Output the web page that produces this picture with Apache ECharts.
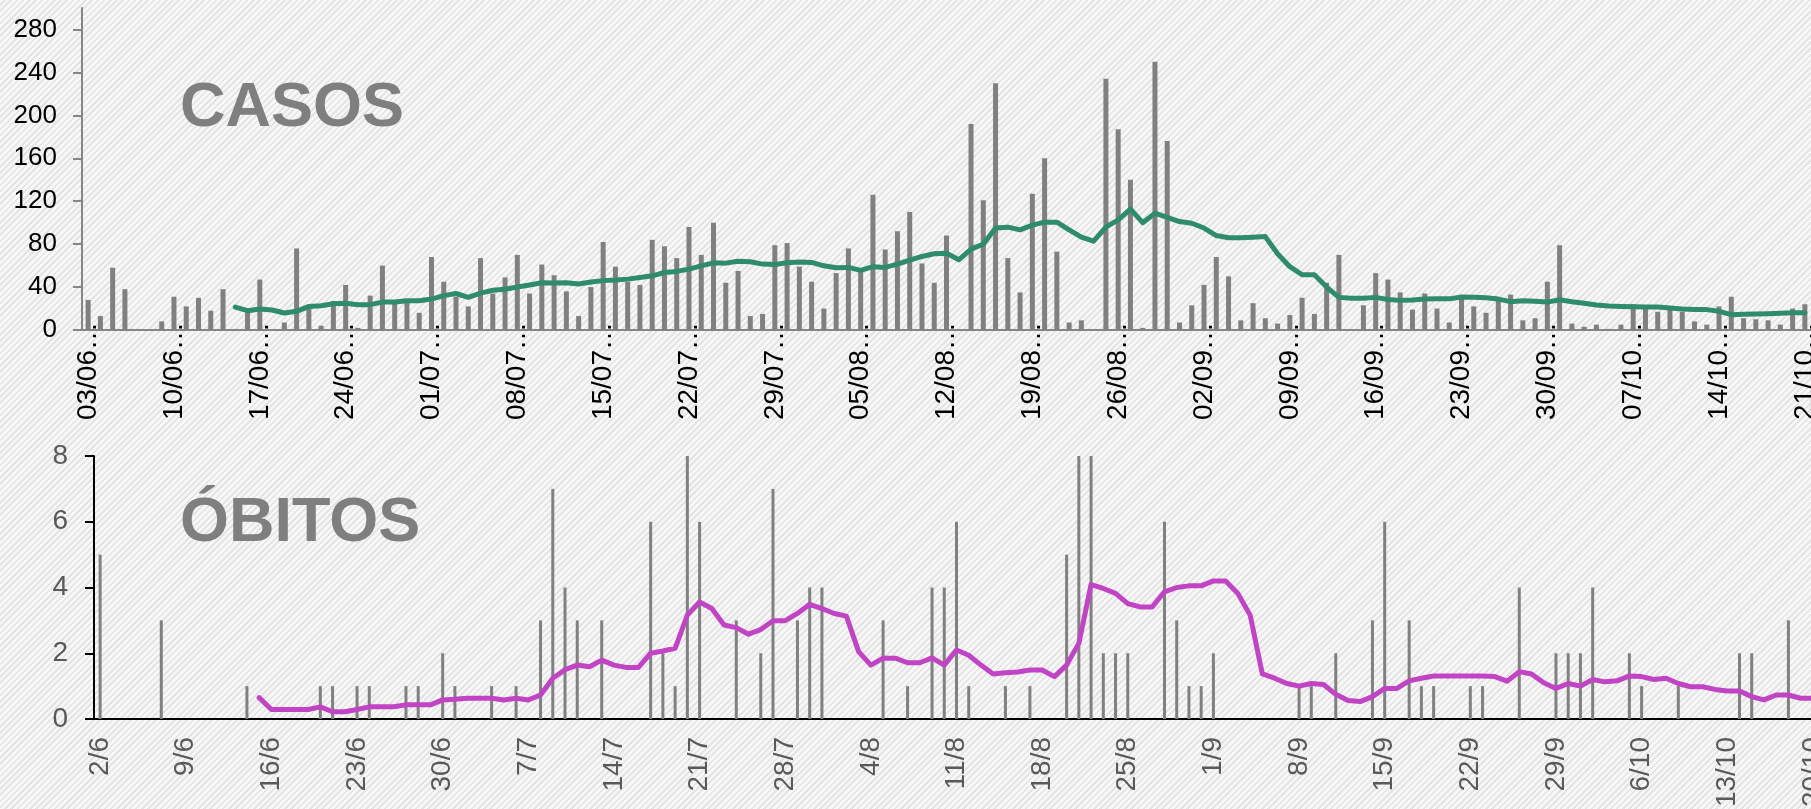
<!DOCTYPE html>
<html>
<head>
<meta charset="utf-8">
<title>Casos e óbitos</title>
<script src="https://cdn.jsdelivr.net/npm/echarts@6/dist/echarts.min.js"></script>
<style>
html, body { margin: 0; padding: 0; }
#chart {
  width: 1811px;
  height: 809px;
  background: repeating-linear-gradient(135deg, #f7f7f7 0px, #f7f7f7 2.6px, #e4e4e4 2.6px, #e4e4e4 4.4px);
}
</style>
</head>
<body>
<div id="chart"></div>
<script>
// eixo dos casos (03/06 a 21/10)
const diasCasos = [
  '03/06','04/06','05/06','06/06','07/06','08/06','09/06','10/06','11/06','12/06','13/06','14/06','15/06','16/06',
  '17/06','18/06','19/06','20/06','21/06','22/06','23/06','24/06','25/06','26/06','27/06','28/06','29/06','30/06',
  '01/07','02/07','03/07','04/07','05/07','06/07','07/07','08/07','09/07','10/07','11/07','12/07','13/07','14/07',
  '15/07','16/07','17/07','18/07','19/07','20/07','21/07','22/07','23/07','24/07','25/07','26/07','27/07','28/07',
  '29/07','30/07','31/07','01/08','02/08','03/08','04/08','05/08','06/08','07/08','08/08','09/08','10/08','11/08',
  '12/08','13/08','14/08','15/08','16/08','17/08','18/08','19/08','20/08','21/08','22/08','23/08','24/08','25/08',
  '26/08','27/08','28/08','29/08','30/08','31/08','01/09','02/09','03/09','04/09','05/09','06/09','07/09','08/09',
  '09/09','10/09','11/09','12/09','13/09','14/09','15/09','16/09','17/09','18/09','19/09','20/09','21/09','22/09',
  '23/09','24/09','25/09','26/09','27/09','28/09','29/09','30/09','01/10','02/10','03/10','04/10','05/10','06/10',
  '07/10','08/10','09/10','10/10','11/10','12/10','13/10','14/10','15/10','16/10','17/10','18/10','19/10','20/10',
  '21/10'
];

const casosDiarios = [
  28, 13, 58, 38, 0, 0, 8, 31, 22, 30, 18, 38, 1, 20, 47, 0, 7, 76, 20, 4, 27, 42, 2, 32, 60, 27, 27, 16, 68, 45,
  31, 22, 67, 34, 49, 70, 34, 61, 51, 36, 13, 40, 82, 59, 45, 42, 84, 78, 67, 96, 70, 100, 44, 55, 13, 15, 79, 81, 59, 45,
  20, 53, 76, 54, 126, 75, 92, 110, 62, 44, 88, 0, 192, 121, 230, 67, 35, 127, 160, 73, 7, 9, 0, 234, 187, 140, 2, 250, 176, 7,
  23, 42, 68, 50, 9, 25, 11, 6, 14, 30, 15, 44, 70, 0, 23, 53, 47, 35, 19, 34, 20, 7, 30, 22, 16, 27, 33, 9, 11, 45,
  79, 6, 3, 5, 1, 5, 24, 20, 17, 19, 17, 8, 5, 22, 31, 11, 10, 9, 5, 20, 24
];

const mediaCasos = [
  null, null, null, null, null, null, null, null, null, null, null, null,
  21.4, 18, 19.5, 18.6, 15.8, 17.4, 22, 22.6, 24.5, 25, 23.6, 23.6, 26, 26, 27.3, 27.3, 28.8, 32,
  34, 30.4, 34.4, 37, 38, 40, 42, 44, 43.7, 44, 42.8, 44.7, 46, 46.5, 47.4, 49, 50.5, 53.6, 54.6, 56.7,
  59.8, 62.6, 62.3, 64, 63.6, 61.4, 61, 62.6, 63.3, 63,
  59.8, 58, 58.3, 55.5, 59, 58.3, 61.4, 65, 68.5, 71, 71.6, 65.4, 75.3, 80, 95, 95.8, 93.3, 97.7, 100.5, 100.5,
  93.3, 86.5, 82.8, 95.8, 102.6, 112.6, 100, 108.8, 105, 101,
  99.5, 95, 88, 86, 86, 86.5, 87, 71, 59, 51.5, 51.5, 40, 30.4, 29.5, 29.5, 30.4, 28.5, 27.6, 28, 28.8,
  29, 29, 30.7, 30.4, 30, 28.8, 26.4, 27.3, 26.7, 26,
  28.2, 26.4, 25, 23.3, 22.3, 22, 21.7, 21.4, 21.4, 20.5, 19.5, 19.2, 19, 17.4, 14.3, 14.6, 15, 15.2, 15.5, 16, 16
];

// eixo dos óbitos (2/6 a 20/10)
const diasObitos = [
  '2/6','3/6','4/6','5/6','6/6','7/6','8/6','9/6','10/6','11/6','12/6','13/6','14/6','15/6',
  '16/6','17/6','18/6','19/6','20/6','21/6','22/6','23/6','24/6','25/6','26/6','27/6','28/6','29/6',
  '30/6','1/7','2/7','3/7','4/7','5/7','6/7','7/7','8/7','9/7','10/7','11/7','12/7','13/7',
  '14/7','15/7','16/7','17/7','18/7','19/7','20/7','21/7','22/7','23/7','24/7','25/7','26/7','27/7',
  '28/7','29/7','30/7','31/7','1/8','2/8','3/8','4/8','5/8','6/8','7/8','8/8','9/8','10/8',
  '11/8','12/8','13/8','14/8','15/8','16/8','17/8','18/8','19/8','20/8','21/8','22/8','23/8','24/8',
  '25/8','26/8','27/8','28/8','29/8','30/8','31/8','1/9','2/9','3/9','4/9','5/9','6/9','7/9',
  '8/9','9/9','10/9','11/9','12/9','13/9','14/9','15/9','16/9','17/9','18/9','19/9','20/9','21/9',
  '22/9','23/9','24/9','25/9','26/9','27/9','28/9','29/9','30/9','1/10','2/10','3/10','4/10','5/10',
  '6/10','7/10','8/10','9/10','10/10','11/10','12/10','13/10','14/10','15/10','16/10','17/10','18/10','19/10',
  '20/10'
];

const obitosDiarios = [
  5, 0, 0, 0, 0, 3, 0, 0, 0, 0, 0, 0, 1, 0, 0, 0, 0, 0, 1, 1, 0, 1, 1, 0, 0, 1, 1, 0, 2, 1,
  0, 0, 1, 0, 1, 0, 3, 7, 4, 3, 0, 3, 0, 0, 0, 6, 2, 1, 8, 6, 0, 0, 3, 0, 2, 7, 0, 3, 4, 4,
  0, 0, 0, 0, 3, 0, 1, 0, 4, 4, 6, 1, 0, 0, 1, 0, 1, 0, 0, 5, 8, 8, 2, 2, 2, 0, 0, 6, 3, 1,
  1, 2, 0, 0, 0, 0, 0, 0, 1, 1, 0, 2, 0, 0, 3, 6, 0, 3, 1, 1, 0, 0, 1, 1, 0, 0, 4, 0, 0, 2,
  2, 2, 4, 0, 0, 2, 1, 0, 0, 1, 0, 0, 0, 0, 2, 2, 0, 0, 3, 0, 1
];

const mediaObitos = [
  null, null, null, null, null, null, null, null, null, null, null, null, null,
  0.65, 0.29, 0.29, 0.29, 0.29, 0.37, 0.22, 0.22, 0.29, 0.37, 0.37, 0.37, 0.43, 0.43, 0.43, 0.58, 0.6,
  0.63, 0.63, 0.63, 0.58, 0.63, 0.58, 0.73, 1.24, 1.5, 1.64, 1.59, 1.79, 1.64, 1.57, 1.57, 2.0, 2.07, 2.15, 3.16, 3.56,
  3.36, 2.86, 2.78, 2.58, 2.72, 2.99, 2.99, 3.21, 3.49, 3.36,
  3.21, 3.13, 2.05, 1.64, 1.85, 1.85, 1.71, 1.71, 1.86, 1.64, 2.1, 1.94, 1.64, 1.37, 1.41, 1.43, 1.49, 1.49, 1.29, 1.64,
  2.3, 4.09, 3.97, 3.82, 3.51, 3.41, 3.41, 3.87, 4.0, 4.05,
  4.05, 4.2, 4.2, 3.82, 3.16, 1.37, 1.24, 1.08, 1.0, 1.08, 1.05, 0.75, 0.56, 0.53, 0.68, 0.93, 0.93, 1.16, 1.24, 1.31,
  1.31, 1.31, 1.31, 1.31, 1.29, 1.15, 1.44, 1.37, 1.1, 0.93,
  1.08, 1.0, 1.2, 1.13, 1.16, 1.31, 1.29, 1.2, 1.24, 1.08, 0.98, 0.98, 0.9, 0.85, 0.85, 0.68, 0.58, 0.73, 0.73, 0.63, 0.63
];

const fonte = '"Liberation Sans", Arial, sans-serif';
const cinza = '#868686';

const chart = echarts.init(document.getElementById('chart'));

const option = {
  animation: false,
  textStyle: { fontFamily: fonte },
  graphic: [
    { type: 'text', x: 180, y: 109, z: 0,
      style: { text: 'CASOS', font: 'bold 63px ' + fonte, fill: '#7f7f7f', verticalAlign: 'middle' } },
    { type: 'text', x: 180, y: 524, z: 0,
      style: { text: 'ÓBITOS', font: 'bold 63px ' + fonte, fill: '#7f7f7f', verticalAlign: 'middle' } }
  ],
  // o gráfico original está cortado à direita, por isso as grades passam da borda
  grid: [
    { left: 82, top: 8, width: 1729, height: 322, outerBoundsMode: 'none', containLabel: false },
    { left: 94, top: 456, width: 1725, height: 263, outerBoundsMode: 'none', containLabel: false }
  ],
  xAxis: [
    {
      gridIndex: 0,
      type: 'category',
      data: diasCasos,
      boundaryGap: true,
      axisLine: { lineStyle: { color: cinza, width: 2 } },
      axisTick: { interval: 6, length: 8, lineStyle: { color: cinza, width: 2 } },
      axisLabel: {
        interval: 6, rotate: 90, margin: -8,
        fontSize: 28, color: '#000', fontFamily: fonte,
        formatter: v => v + '…'
      }
    },
    {
      gridIndex: 1,
      type: 'category',
      data: diasObitos,
      boundaryGap: true,
      axisLine: { lineStyle: { color: '#000', width: 2 } },
      axisTick: { show: false },
      axisLabel: {
        interval: 6, rotate: 90, margin: 18,
        fontSize: 28, color: '#595959', fontFamily: fonte
      }
    }
  ],
  yAxis: [
    {
      gridIndex: 0,
      type: 'value',
      min: 0, max: 300, interval: 40,
      splitLine: { show: false },
      axisLine: { show: true, lineStyle: { color: cinza, width: 2 } },
      axisTick: { show: true, length: 9, lineStyle: { color: cinza, width: 2 } },
      axisLabel: { showMaxLabel: false, margin: 25, fontSize: 26, color: '#000', fontFamily: fonte }
    },
    {
      gridIndex: 1,
      type: 'value',
      min: 0, max: 8, interval: 2,
      splitLine: { show: false },
      axisLine: { show: true, lineStyle: { color: '#000', width: 2 } },
      axisTick: { show: true, length: 9, lineStyle: { color: '#000', width: 2 } },
      axisLabel: { margin: 26, fontSize: 28, color: '#595959', fontFamily: fonte }
    }
  ],
  series: [
    {
      name: 'Casos', type: 'bar', xAxisIndex: 0, yAxisIndex: 0,
      data: casosDiarios, barWidth: 5,
      itemStyle: { color: '#808080' }
    },
    {
      name: 'Média casos', type: 'line', xAxisIndex: 0, yAxisIndex: 0,
      data: mediaCasos, symbol: 'none', z: 5,
      lineStyle: { color: '#2e8b6d', width: 5, cap: 'round', join: 'round' }
    },
    {
      name: 'Óbitos', type: 'bar', xAxisIndex: 1, yAxisIndex: 1,
      data: obitosDiarios, barWidth: 3,
      itemStyle: { color: '#808080' }
    },
    {
      name: 'Média óbitos', type: 'line', xAxisIndex: 1, yAxisIndex: 1,
      data: mediaObitos, symbol: 'none', z: 5,
      lineStyle: { color: '#c044c4', width: 5, cap: 'round', join: 'round' }
    }
  ]
};

chart.setOption(option);
</script>
</body>
</html>
